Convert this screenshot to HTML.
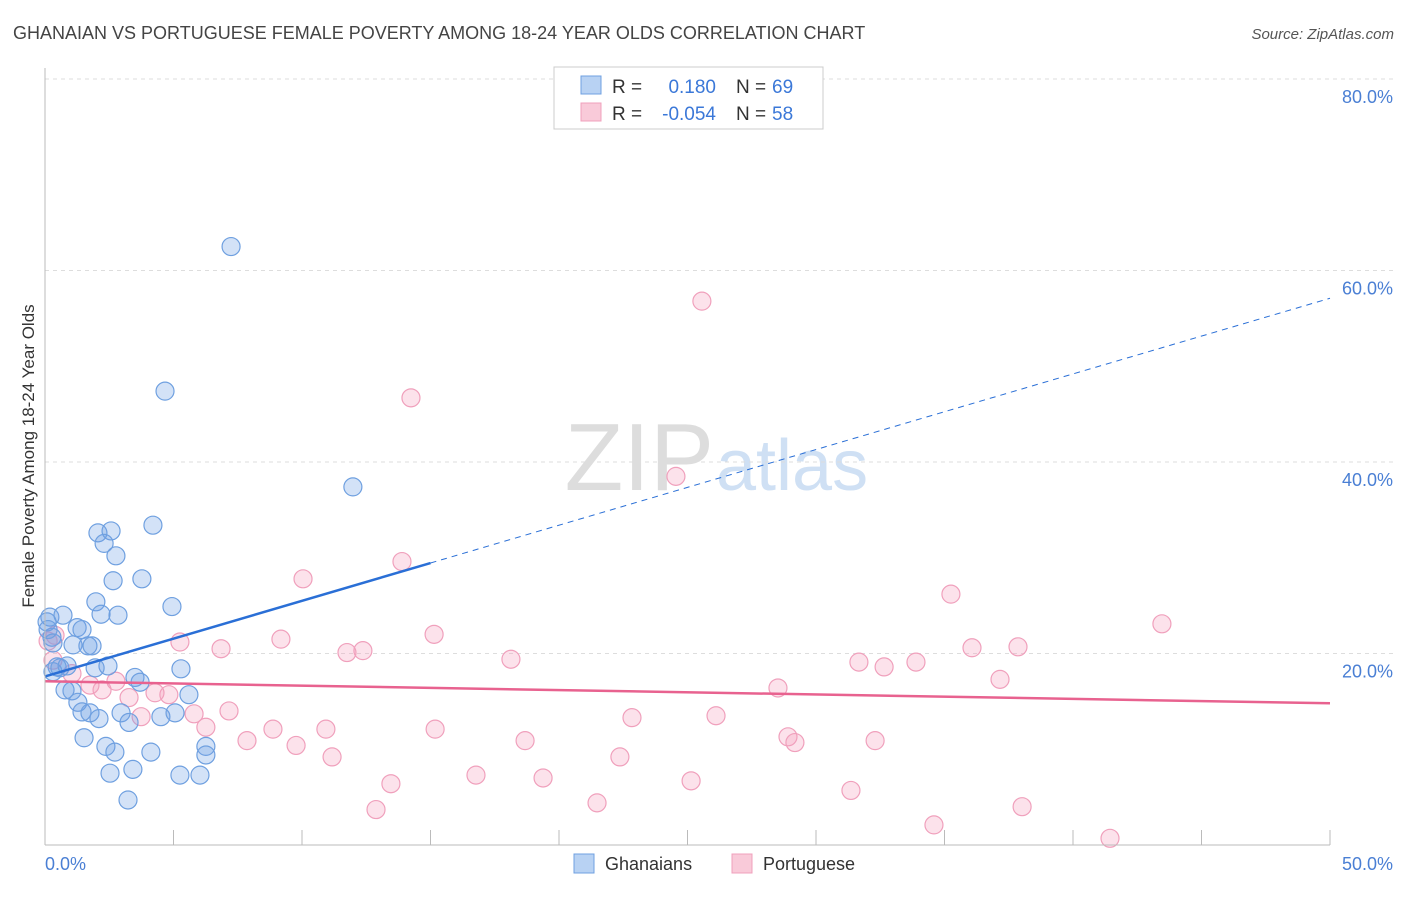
<!DOCTYPE html>
<html><head><meta charset="utf-8"><style>
body{margin:0;background:#fff;font-family:"Liberation Sans",sans-serif}
svg text{font-family:"Liberation Sans",sans-serif}
</style></head><body>
<svg id="c" width="1406" height="892">
<text x="13" y="39" font-size="18" fill="#444">GHANAIAN VS PORTUGUESE FEMALE POVERTY AMONG 18-24 YEAR OLDS CORRELATION CHART</text>
<text x="1394" y="39" font-size="15" fill="#555" font-style="italic" text-anchor="end">Source: ZipAtlas.com</text>
<text x="714" y="490" font-size="96" fill="#ddd" text-anchor="end" font-family="Liberation Serif">ZIP</text>
<text x="716" y="490" font-size="72" fill="#cfe0f4">atlas</text>
<g id="grid"></g><g id="pts"></g><g id="lines"></g>
<line x1="45" y1="68" x2="45" y2="845" stroke="#bbb"/>
<line x1="45" y1="845" x2="1330" y2="845" stroke="#bbb"/>
<text transform="translate(34,456) rotate(-90)" font-size="17" fill="#333" text-anchor="middle">Female Poverty Among 18-24 Year Olds</text>
<text x="45" y="870" font-size="18" fill="#4a7fd4">0.0%</text>
<text x="1393" y="870" font-size="18" fill="#4a7fd4" text-anchor="end">50.0%</text>
<g>
<rect x="554" y="67" width="269" height="62" fill="#fff" stroke="#ccc"/>
<rect x="581" y="76" width="20" height="18" fill="#b8d2f3" stroke="#6fa0e0"/>
<rect x="581" y="103" width="20" height="18" fill="#f9cad9" stroke="#f0a0bc"/>
<text x="612" y="93" font-size="19" fill="#333">R = </text><text x="716" y="93" font-size="19" fill="#3b78d8" text-anchor="end">0.180</text>
<text x="736" y="93" font-size="19" fill="#333">N = </text><text x="772" y="93" font-size="19" fill="#3b78d8">69</text>
<text x="612" y="120" font-size="19" fill="#333">R = </text><text x="716" y="120" font-size="19" fill="#3b78d8" text-anchor="end">-0.054</text>
<text x="736" y="120" font-size="19" fill="#333">N = </text><text x="772" y="120" font-size="19" fill="#3b78d8">58</text>
</g>
<g>
<rect x="574" y="854" width="20" height="19" fill="#b8d2f3" stroke="#6fa0e0"/>
<text x="605" y="870" font-size="18" fill="#333">Ghanaians</text>
<rect x="732" y="854" width="20" height="19" fill="#f9cad9" stroke="#f0a0bc"/>
<text x="763" y="870" font-size="18" fill="#333">Portuguese</text>
</g>
</svg>
<script>
const yTicks=[20,40,60,80];
const xTicks=[0,5,10,15,20,25,30,35,40,45,50];
const blueX=[2.06,2.57,2.30,2.76,4.20,2.65,3.77,1.98,2.18,2.84,4.94,0.19,0.70,1.25,1.44,0.27,0.31,1.09,1.67,1.83,2.45,5.29,0.47,0.86,0.31,0.58,3.50,3.70,1.95,0.78,1.05,5.60,1.28,1.44,1.75,2.10,2.96,3.27,4.51,5.06,1.52,2.37,2.72,4.12,6.26,6.26,2.53,3.42,5.25,6.03,3.23,7.24,4.67,11.98,0.08,0.12];
const blueY=[32.6,32.8,31.5,30.2,33.4,27.6,27.8,25.4,24.1,24.0,24.9,23.8,24.0,22.7,22.5,21.7,21.1,20.9,20.8,20.8,18.7,18.4,18.6,18.7,18.1,18.5,17.5,17.0,18.5,16.2,16.1,15.7,14.9,13.9,13.8,13.2,13.8,12.8,13.4,13.8,11.2,10.3,9.7,9.7,10.3,9.4,7.5,7.9,7.3,7.3,4.7,62.5,47.4,37.4,23.3,22.5];
const pinkX=[5.25,6.85,9.18,10.04,13.89,14.24,25.56,24.55,15.14,12.37,11.75,18.13,15.18,10.93,11.17,13.46,12.88,16.77,19.38,21.48,22.37,22.84,25.14,26.11,28.52,28.91,29.18,31.36,32.30,31.67,32.65,33.89,35.25,36.07,37.86,37.16,34.59,38.02,41.44,43.46,18.68,9.77,8.87,7.86,7.16,6.26,5.80,4.82,4.28,3.74,3.27,2.76,2.22,1.75,1.05,0.39,0.12,0.31];
const pinkY=[21.2,20.5,21.5,27.8,29.6,46.7,56.8,38.5,22.0,20.3,20.1,19.4,12.1,12.1,9.2,6.4,3.7,7.3,7.0,4.4,9.2,13.3,6.7,13.5,16.4,11.3,10.7,5.7,10.9,19.1,18.6,19.1,26.2,20.6,20.7,17.3,2.1,4.0,0.7,23.1,10.9,10.4,12.1,10.9,14.0,12.3,13.7,15.7,15.9,13.4,15.4,17.1,16.2,16.7,17.9,21.9,21.3,19.3];
const blueTrend=[17.6,57.1];
const blueSolidEnd=15;
const pinkTrend=[17.1,14.8];
const NS="http://www.w3.org/2000/svg";
const sx=v=>45+v*25.7;
const sy=v=>845-v*9.575;
function mk(tag,attrs,parent){const e=document.createElementNS(NS,tag);for(const k in attrs)e.setAttribute(k,attrs[k]);parent.appendChild(e);return e;}
const grid=document.getElementById('grid');
yTicks.forEach(t=>{
  const l=mk('line',{x1:45,x2:1395,y1:sy(t),y2:sy(t),stroke:'#ddd','stroke-dasharray':'4,4'},grid);
  
  
  const tx=mk('text',{x:1393,y:sy(t)+24,'font-size':18,fill:'#4a7fd4','text-anchor':'end'},grid);
  tx.textContent=t.toFixed(1)+'%';
  
  
});
xTicks.forEach(t=>{
  const l=mk('line',{x1:sx(t),x2:sx(t),y1:830,y2:845,stroke:'#bbb'},grid);
  
  
});
const pts=document.getElementById('pts');
pinkX.forEach((x,i)=>{
  const c=mk('circle',{cx:sx(x),cy:sy(pinkY[i]),r:9,fill:'rgba(244,160,190,0.3)',stroke:'#f0a0bc','stroke-width':1.2},pts);
  
  
});
blueX.forEach((x,i)=>{
  const c=mk('circle',{cx:sx(x),cy:sy(blueY[i]),r:9,fill:'rgba(110,160,230,0.3)',stroke:'#6fa0e0','stroke-width':1.2},pts);
  
  
});
const lines=document.getElementById('lines');
const by=x=>blueTrend[0]+(blueTrend[1]-blueTrend[0])*x/50;
const b1=mk('line',{x1:sx(0),y1:sy(by(0)),x2:sx(blueSolidEnd),y2:sy(by(blueSolidEnd)),stroke:'#2a6fd6','stroke-width':2.5},lines);


const b2=mk('line',{x1:sx(blueSolidEnd),y1:sy(by(blueSolidEnd)),x2:sx(50),y2:sy(by(50)),stroke:'#2a6fd6','stroke-width':1,'stroke-dasharray':'6,5'},lines);


const p1=mk('line',{x1:sx(0),y1:sy(pinkTrend[0]),x2:sx(50),y2:sy(pinkTrend[1]),stroke:'#e8628f','stroke-width':2.5},lines);


</script>
</body></html>
